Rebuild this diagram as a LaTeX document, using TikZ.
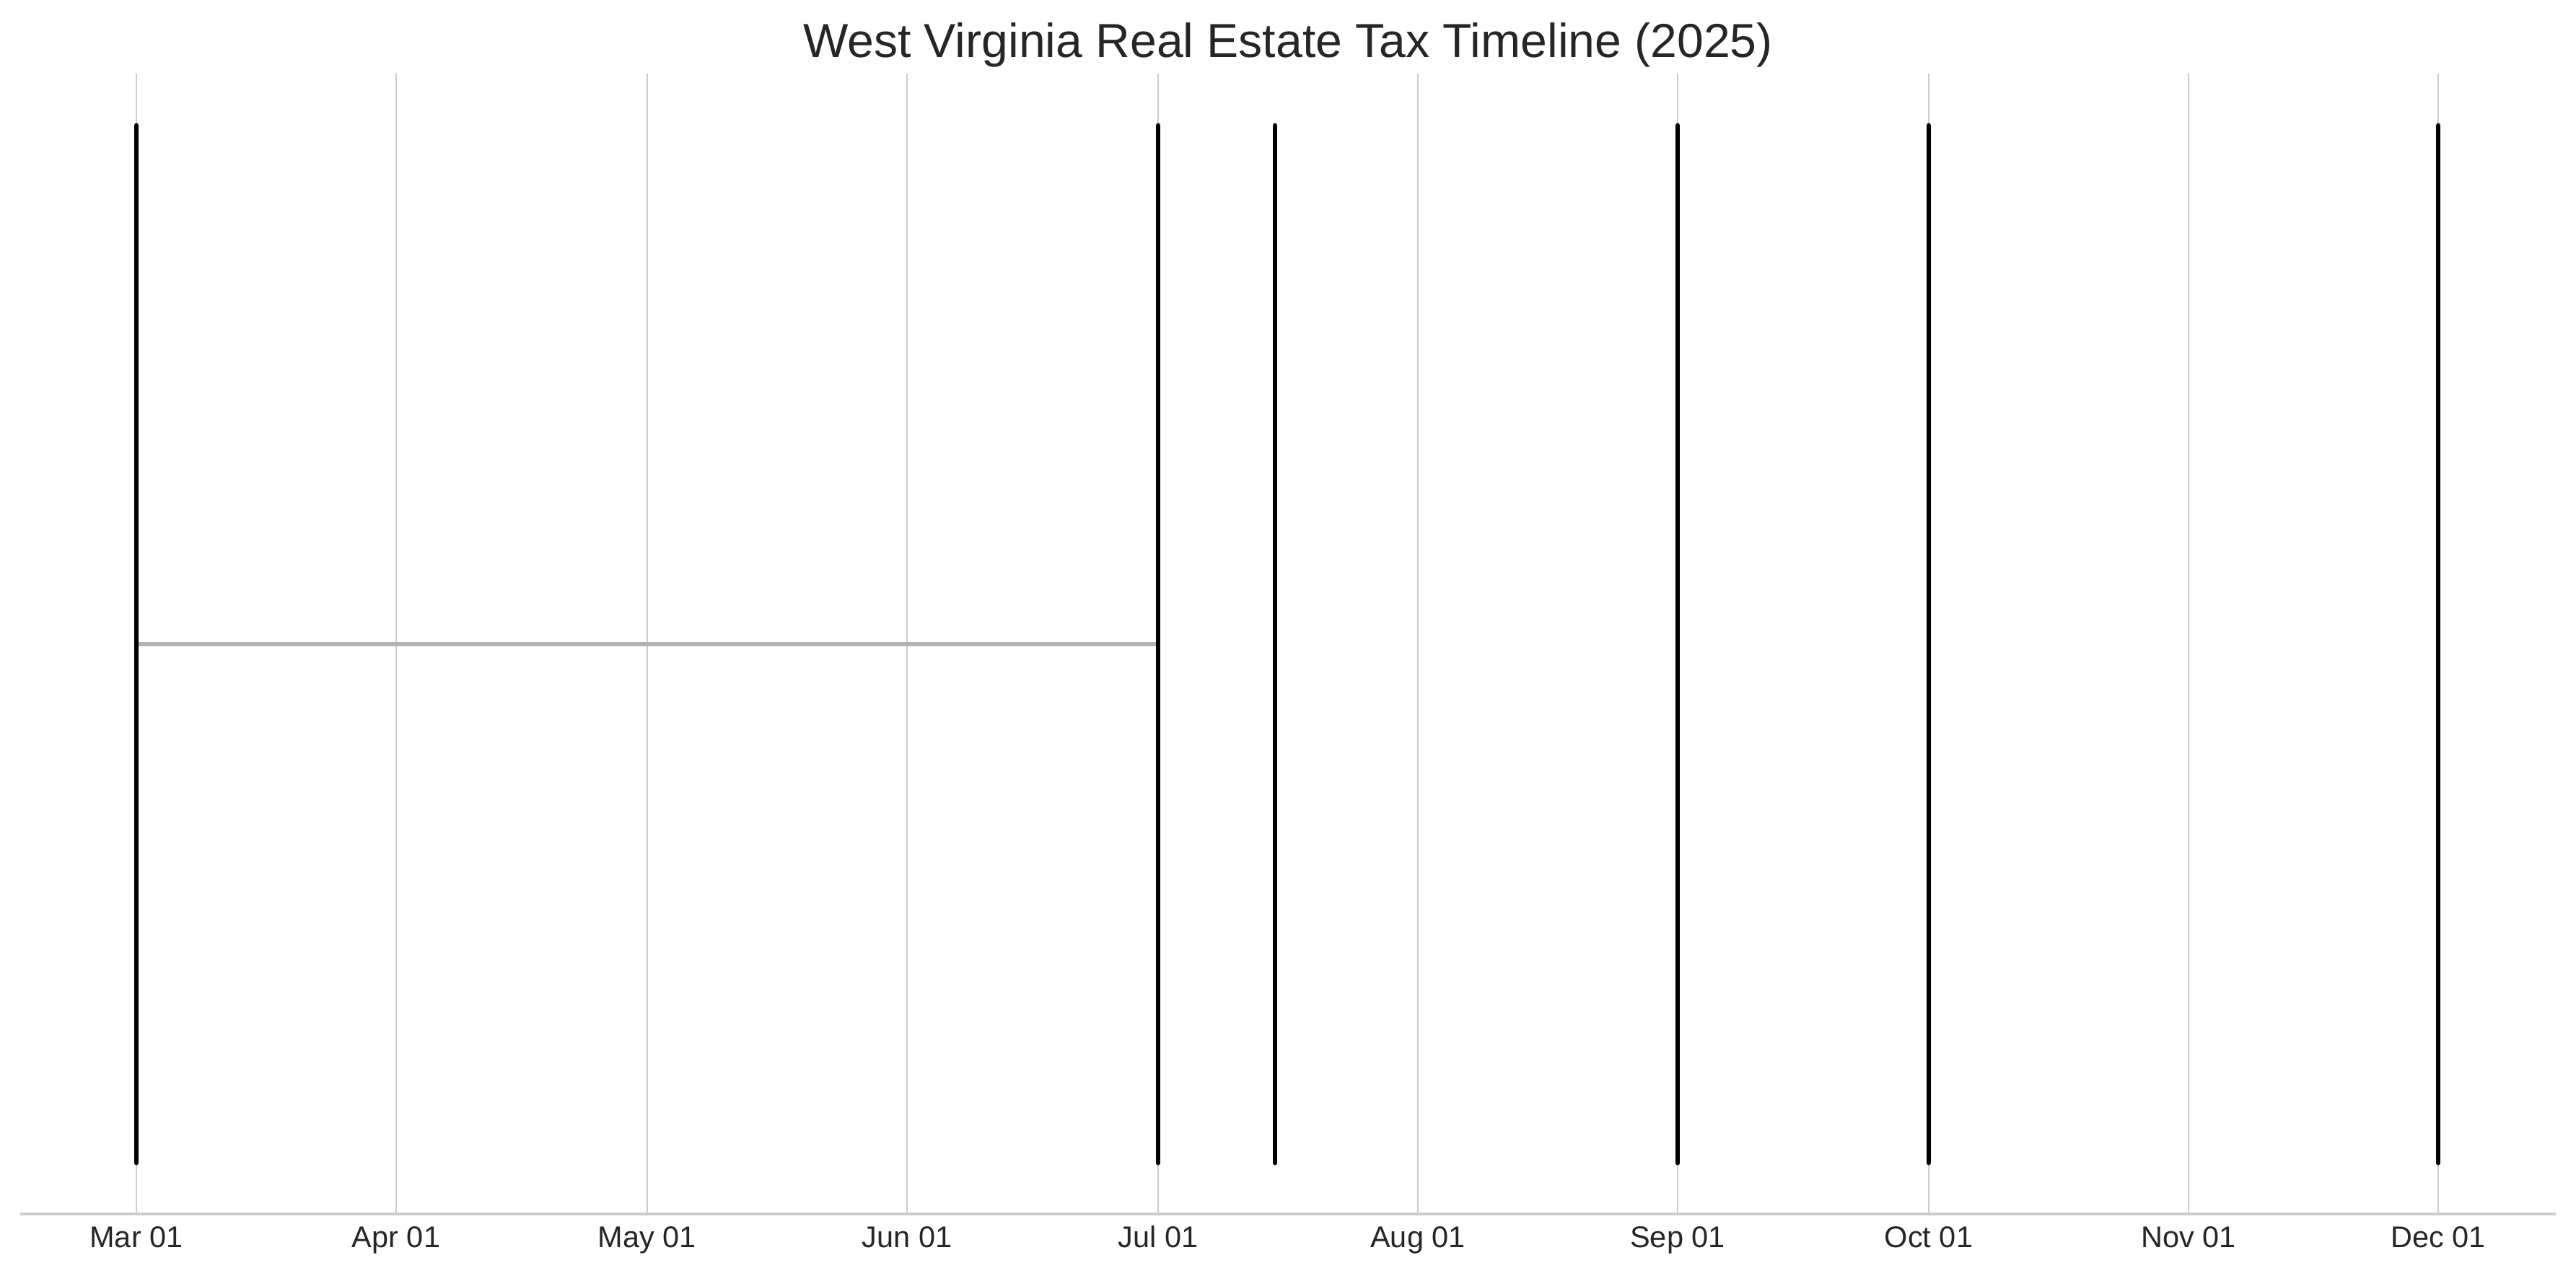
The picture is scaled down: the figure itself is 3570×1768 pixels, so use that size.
\documentclass[tikz,border=0pt]{standalone}
\usepackage{fontspec}
\setmainfont{Liberation Sans}
\definecolor{txt}{HTML}{262626}
\definecolor{grid}{HTML}{CCCCCC}
\definecolor{span}{HTML}{B3B3B3}
\begin{document}
\begin{tikzpicture}[x=0.01cm,y=-0.01cm,
  gridline/.style={draw=grid,line width=0.8pt},
  eventline/.style={draw=black,line width=1.9pt,line cap=round},
  spanline/.style={draw=span,line width=1.6pt},
  ticklabel/.style={text=txt,font=\fontsize{11.8}{14}\selectfont,inner sep=0pt},
  titlelabel/.style={text=txt,font=\fontsize{18.8}{22}\selectfont,inner sep=0pt}]
\useasboundingbox (0,0) rectangle (3570,1768);
% grid lines and labels
\foreach \x/\lab/\nm in {189/Mar 01/mar,549/Apr 01/apr,897/May 01/may,1257/Jun 01/jun,1605/Jul 01/jul,1965/Aug 01/aug,2325/Sep 01/sep,2673/Oct 01/oct,3033/Nov 01/nov,3379/Dec 01/dec}{
  \coordinate (g\nm t) at (\x,102);
  \coordinate (g\nm b) at (\x,1683);
  \draw[gridline] (g\nm t) -- (g\nm b);
  \node[ticklabel,anchor=base] (l\nm) at (\x,1729) {\lab};
}
% axis
\coordinate (axl) at (28,1683);
\coordinate (axr) at (3542,1683);
\draw[draw=grid,line width=1.2pt] (axl) -- (axr);
% title
\node[titlelabel,anchor=base] (title) at (1785,79) {West Virginia Real Estate Tax Timeline (2025)};
% event lines
\foreach \x/\nm in {189/e1,1605/e2,1767/e3,2325/e4,2673/e5,3379/e6}{
  \coordinate (\nm t) at (\x,174);
  \coordinate (\nm m) at (\x,893);
  \coordinate (\nm b) at (\x,1612);
}
\draw[spanline] (e1m) -- (e2m);
\foreach \nm in {e1,e2,e3,e4,e5,e6}{
  \draw[eventline] (\nm t) -- (\nm b);
}
\end{tikzpicture}
\end{document}
